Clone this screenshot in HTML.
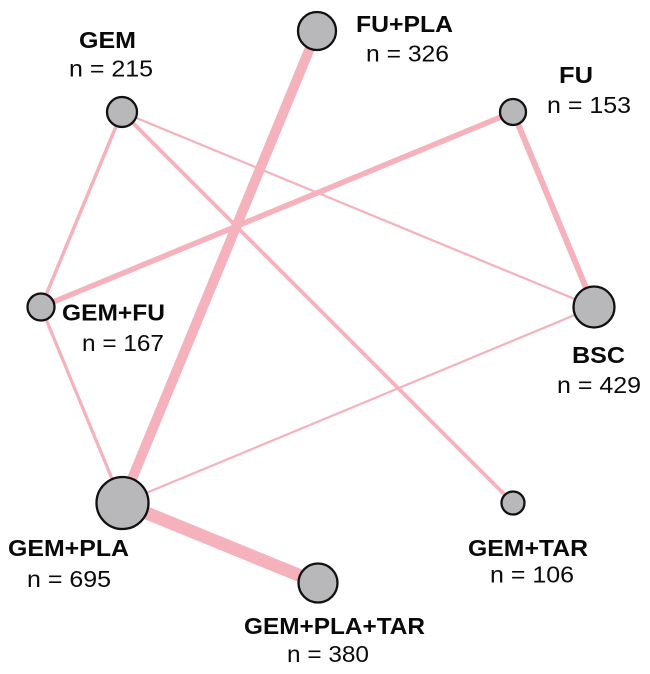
<!DOCTYPE html>
<html>
<head>
<meta charset="utf-8">
<style>
html,body{margin:0;padding:0;background:#fff;}
svg{display:block;}
.b{font-family:"Liberation Sans",Arial,sans-serif;font-weight:bold;font-size:23px;fill:#0a0a0a;}
.r{font-family:"Liberation Sans",Arial,sans-serif;font-size:23px;fill:#0a0a0a;}
</style>
</head>
<body>
<svg width="650" height="674" viewBox="0 0 650 674" xmlns="http://www.w3.org/2000/svg">
  <g stroke="#f5b1bc" fill="none" stroke-linecap="butt">
    <line x1="122" y1="112" x2="41" y2="307" stroke-width="3.5"/>
    <line x1="122" y1="112" x2="594" y2="307" stroke-width="2.2"/>
    <line x1="122" y1="112" x2="513" y2="503" stroke-width="3.8"/>
    <line x1="317" y1="31" x2="122" y2="503" stroke-width="10"/>
    <line x1="513" y1="112" x2="41" y2="307" stroke-width="5.5"/>
    <line x1="513" y1="112" x2="594" y2="307" stroke-width="6"/>
    <line x1="41" y1="307" x2="122" y2="503" stroke-width="3.2"/>
    <line x1="122" y1="503" x2="594" y2="307" stroke-width="2.2"/>
    <line x1="122" y1="503" x2="318" y2="583" stroke-width="13"/>
  </g>
  <g fill="#b8b8ba" stroke="#111" stroke-width="2.3">
    <circle cx="122" cy="112" r="15"/>
    <circle cx="317" cy="31" r="19"/>
    <circle cx="513" cy="112" r="13"/>
    <circle cx="594" cy="307" r="20.5"/>
    <circle cx="41" cy="307" r="13.5"/>
    <circle cx="122.5" cy="503" r="26"/>
    <circle cx="318" cy="583" r="19.5"/>
    <circle cx="513" cy="503" r="11.5"/>
  </g>
  <text class="b" x="79" y="48" textLength="57" lengthAdjust="spacingAndGlyphs">GEM</text>
  <text class="r" x="69" y="76.5" textLength="84" lengthAdjust="spacingAndGlyphs">n = 215</text>

  <text class="b" x="356" y="32" textLength="97" lengthAdjust="spacingAndGlyphs">FU+PLA</text>
  <text class="r" x="366" y="61.5" textLength="83" lengthAdjust="spacingAndGlyphs">n = 326</text>

  <text class="b" x="559" y="83" textLength="34" lengthAdjust="spacingAndGlyphs">FU</text>
  <text class="r" x="547" y="113" textLength="84" lengthAdjust="spacingAndGlyphs">n = 153</text>

  <text class="b" x="62" y="320.5" textLength="103" lengthAdjust="spacingAndGlyphs">GEM+FU</text>
  <text class="r" x="82" y="351" textLength="82" lengthAdjust="spacingAndGlyphs">n = 167</text>

  <text class="b" x="572" y="363" textLength="53" lengthAdjust="spacingAndGlyphs">BSC</text>
  <text class="r" x="557" y="393" textLength="84" lengthAdjust="spacingAndGlyphs">n = 429</text>

  <text class="b" x="8" y="556" textLength="121" lengthAdjust="spacingAndGlyphs">GEM+PLA</text>
  <text class="r" x="27" y="587" textLength="84" lengthAdjust="spacingAndGlyphs">n = 695</text>

  <text class="b" x="468" y="556" textLength="120" lengthAdjust="spacingAndGlyphs">GEM+TAR</text>
  <text class="r" x="490" y="582.5" textLength="84" lengthAdjust="spacingAndGlyphs">n = 106</text>

  <text class="b" x="244" y="634" textLength="181" lengthAdjust="spacingAndGlyphs">GEM+PLA+TAR</text>
  <text class="r" x="287" y="662" textLength="82" lengthAdjust="spacingAndGlyphs">n = 380</text>
</svg>
</body>
</html>
